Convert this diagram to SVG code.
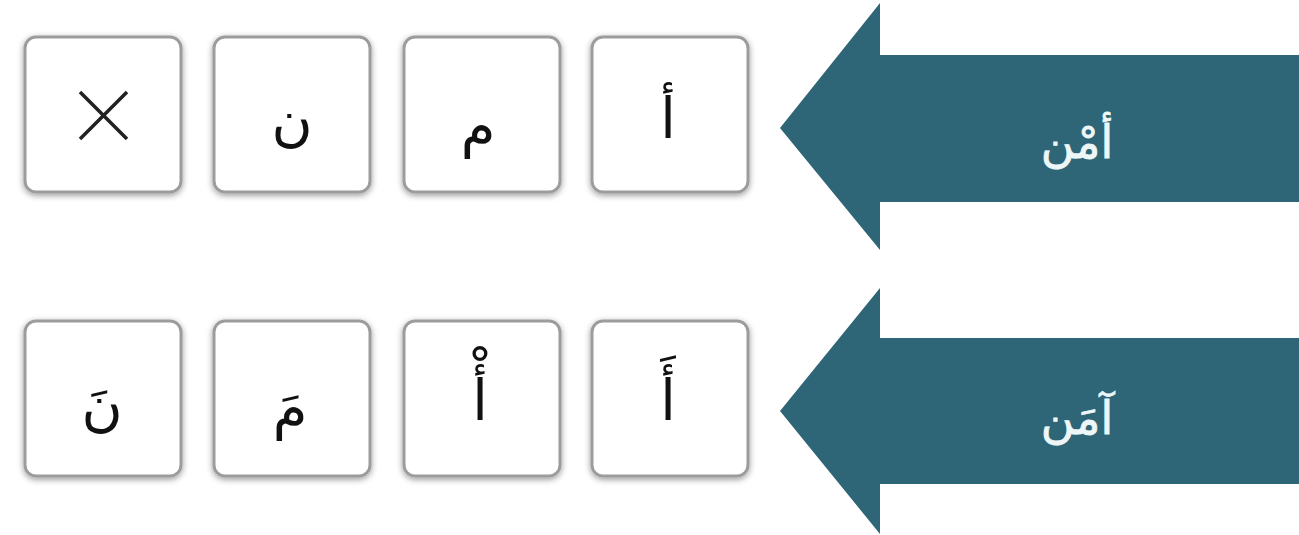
<svg xmlns="http://www.w3.org/2000/svg" width="1299" height="535" viewBox="0 0 1299 535">
<defs>
<filter id="sh" x="-10%" y="-10%" width="120%" height="125%">
<feGaussianBlur in="SourceAlpha" stdDeviation="3"/>
<feOffset dx="0" dy="2" result="b"/>
<feFlood flood-color="#000" flood-opacity="0.4"/>
<feComposite in2="b" operator="in"/>
<feMerge><feMergeNode/><feMergeNode in="SourceGraphic"/></feMerge>
</filter>
<style>
.box{fill:#fff;stroke:#9c9c9c;stroke-width:3;filter:url(#sh)}
.ch{font-family:"DejaVu Sans","Noto Sans",sans-serif;font-size:56px;fill:#111;text-anchor:middle}
.arr{fill:#2e6577}
.lbl{font-family:"DejaVu Sans","Noto Sans",sans-serif;font-size:46px;fill:#eef7f8;stroke:#eef7f8;stroke-width:0.8;text-anchor:middle}
</style>
</defs>
<rect width="1299" height="535" fill="#fff"/>
<g id="connectors">
<path class="arr" d="M780,128 L880,3 L880,55 L1299,55 L1299,202 L880,202 L880,250 Z"/>
<path class="arr" d="M780,411 L880,288 L880,338 L1299,338 L1299,484 L880,484 L880,534 Z"/>
</g>
<g id="label-top"><text class="lbl" x="1077" y="158" direction="rtl">أمْن</text></g>
<g id="label-bottom"><text class="lbl" x="1077" y="434" direction="rtl">آمَن</text></g>
<g id="box-t1"><rect class="box" x="25" y="37" width="156" height="155" rx="11"/>
<path d="M80,92 L127,139 M127,92 L80,139" stroke="#222" stroke-width="3.5" fill="none"/></g>
<g id="box-t2"><rect class="box" x="214" y="37" width="156" height="155" rx="11"/><text class="ch" x="292" y="140">ن</text></g>
<g id="box-t3"><rect class="box" x="404" y="37" width="156" height="155" rx="11"/><text class="ch" x="478" y="146">م</text></g>
<g id="box-t4"><rect class="box" x="592" y="37" width="156" height="155" rx="11"/><text class="ch" x="668" y="138">أ</text></g>
<g id="box-b1"><rect class="box" x="25" y="321" width="156" height="155" rx="11"/><text class="ch" x="102" y="425">نَ</text></g>
<g id="box-b2"><rect class="box" x="214" y="321" width="156" height="155" rx="11"/><text class="ch" x="290" y="428">مَ</text></g>
<g id="box-b3"><rect class="box" x="404" y="321" width="156" height="155" rx="11"/><text class="ch" x="480" y="420">أْ</text></g>
<g id="box-b4"><rect class="box" x="592" y="321" width="156" height="155" rx="11"/><text class="ch" x="668" y="420">أَ</text></g>
</svg>
